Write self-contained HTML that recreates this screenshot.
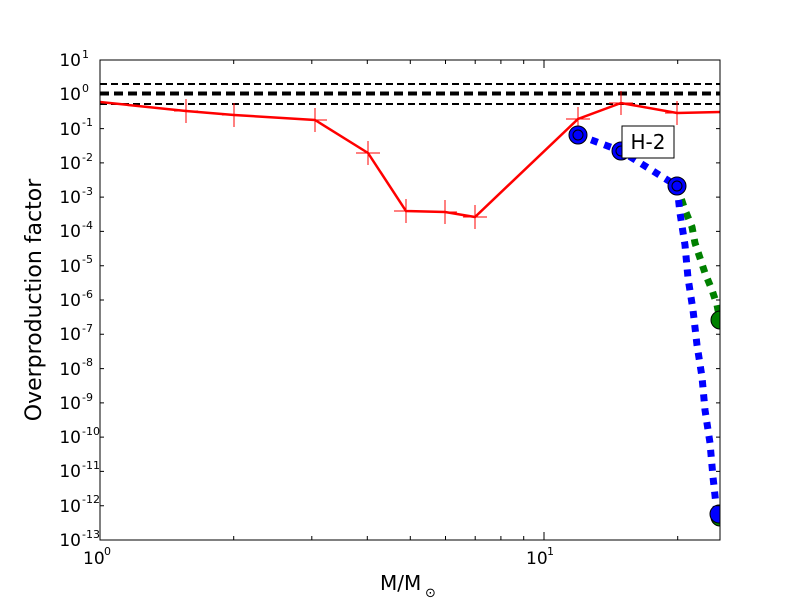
<!DOCTYPE html>
<html><head><meta charset="utf-8"><style>body{margin:0;background:#fff}svg{display:block;font-family:"DejaVu Sans","Liberation Sans",sans-serif}</style></head><body>
<svg width="800" height="600" xmlns="http://www.w3.org/2000/svg">
<rect width="800" height="600" fill="#fff"/>
<g stroke="#000" fill="none">
<line x1="100" y1="84" x2="720" y2="84" stroke-width="2" stroke-dasharray="7,4"/>
<line x1="100" y1="93.5" x2="720" y2="93.5" stroke-width="4" stroke-dasharray="9,5"/>
<line x1="100" y1="104" x2="720" y2="104" stroke-width="2" stroke-dasharray="7,4"/>
</g>
<polyline fill="none" stroke="#f00" stroke-width="2.5" points="100,102 186,111 234,115 315,120 368,153 406,211 445,212 475,217 578,119 621,103 677,113 720,112"/>
<g stroke="#f00" stroke-width="1">
<path d="M186,99v24M174,111h24M234,103v24M222,115h24M315,108v24M303,120h24M368,141v24M356,153h24M406,199v24M394,211h24M445,200v24M433,212h24M475,205v24M463,217h24M578,107v24M566,119h24M621,91v24M609,103h24M677,101v24M665,113h24"/>
</g>
<polyline fill="none" stroke="#008000" stroke-width="7" stroke-dasharray="7,7" points="677,186 685,210 692,227 695,243 700,258 705,273 712,290 717,305 720,320"/>
<polyline fill="none" stroke="#00f" stroke-width="7" stroke-dasharray="7,7" points="578,135 621,151 677,186 680,213 685,245 688,278 693,310 697,345 702,377 705,410 710,443 713,477 717,514"/>
<g stroke="#000" stroke-width="1">
<circle cx="720" cy="320" r="9" fill="#008000"/>
<circle cx="720" cy="517" r="9" fill="#008000"/>
<circle cx="578" cy="135" r="9" fill="#00f"/><circle cx="578" cy="135" r="5" fill="none"/>
<circle cx="621" cy="151" r="9" fill="#00f"/><circle cx="621" cy="151" r="5" fill="none"/>
<circle cx="677" cy="186" r="9" fill="#00f"/><circle cx="677" cy="186" r="5" fill="none"/>
<circle cx="719" cy="514" r="9" fill="#00f"/>
</g>
<rect x="720.5" y="40" width="79" height="520" fill="#fff"/>
<rect x="622" y="126" width="52" height="32" fill="#fff" stroke="#000" stroke-width="1"/>
<text x="648" y="149" font-size="20" text-anchor="middle">H-2</text>
<rect x="100" y="60" width="620" height="480" fill="none" stroke="#000" stroke-width="1"/>
<g stroke="#000" stroke-width="1">
<path d="M100,60h4M100,94.3h4M100,128.6h4M100,162.9h4M100,197.1h4M100,231.4h4M100,265.7h4M100,300h4M100,334.3h4M100,368.6h4M100,402.9h4M100,437.1h4M100,471.4h4M100,505.7h4M100,540h4
M720,60h-4M720,94.3h-4M720,128.6h-4M720,162.9h-4M720,197.1h-4M720,231.4h-4M720,265.7h-4M720,300h-4M720,334.3h-4M720,368.6h-4M720,402.9h-4M720,437.1h-4M720,471.4h-4M720,505.7h-4M720,540h-4
M544,540v-8M544,60v8
M233.7,540v-4M311.8,540v-4M367.3,540v-4M410.3,540v-4M445.5,540v-4M475.2,540v-4M500.9,540v-4M523.7,540v-4M677.7,540v-4
M233.7,60v4M311.8,60v4M367.3,60v4M410.3,60v4M445.5,60v4M475.2,60v4M500.9,60v4M523.7,60v4M677.7,60v4"/>
</g>
<g font-size="17" text-anchor="end">
<text x="81" y="66">10</text><text x="81" y="100">10</text><text x="81" y="135">10</text><text x="81" y="169">10</text><text x="81" y="203">10</text><text x="81" y="237">10</text><text x="81" y="272">10</text><text x="81" y="306">10</text><text x="81" y="340">10</text><text x="81" y="375">10</text><text x="81" y="409">10</text><text x="81" y="443">10</text><text x="81" y="477">10</text><text x="81" y="512">10</text><text x="81" y="546">10</text>
</g>
<g font-size="11">
<text x="82" y="58">1</text><text x="82" y="92">0</text><text x="82" y="126">-1</text><text x="82" y="161">-2</text><text x="82" y="195">-3</text><text x="82" y="229">-4</text><text x="82" y="263">-5</text><text x="82" y="298">-6</text><text x="82" y="332">-7</text><text x="82" y="366">-8</text><text x="82" y="401">-9</text><text x="82" y="435">-10</text><text x="82" y="469">-11</text><text x="82" y="503">-12</text><text x="82" y="538">-13</text>
</g>
<text x="83" y="564" font-size="17">10</text><text x="104" y="555" font-size="11">0</text>
<text x="526" y="564" font-size="17">10</text><text x="547" y="555" font-size="11">1</text>
<text x="380" y="590" font-size="20">M/M</text><text x="425" y="597" font-size="13">⊙</text>
<text transform="translate(41,300) rotate(-90)" font-size="22" text-anchor="middle">Overproduction factor</text>
</svg>
</body></html>
